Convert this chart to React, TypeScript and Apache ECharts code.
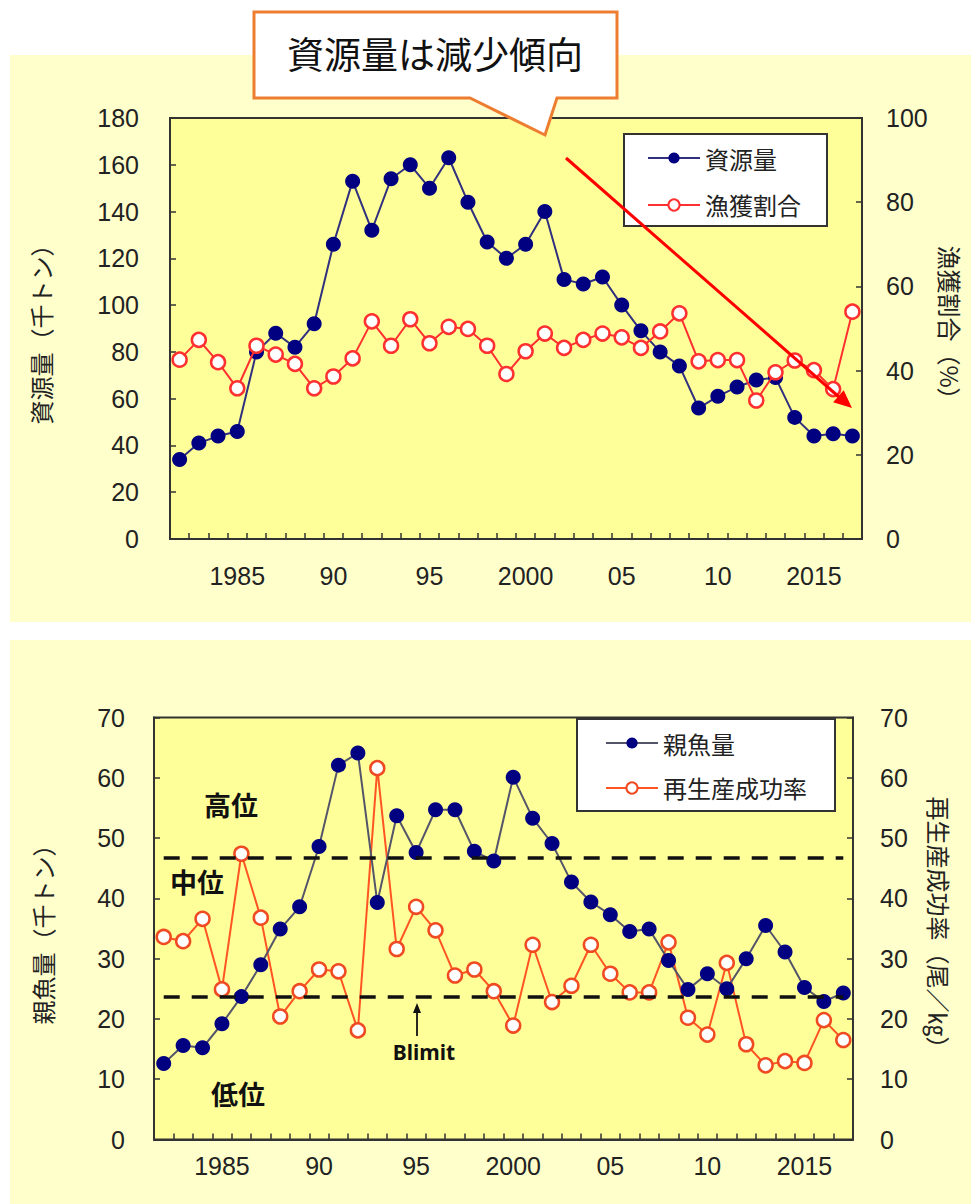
import React, { useEffect, useRef } from "react";
import * as echarts from "echarts";

const years = [
  "1982", "1983", "1984", "1985", "1986", "1987", "1988", "1989", "1990", "1991",
  "1992", "1993", "1994", "1995", "1996", "1997", "1998", "1999", "2000", "2001",
  "2002", "2003", "2004", "2005", "2006", "2007", "2008", "2009", "2010", "2011",
  "2012", "2013", "2014", "2015", "2016", "2017",
];

const yearLabels: Record<string, string> = {
  "1985": "1985", "1990": "90", "1995": "95", "2000": "2000",
  "2005": "05", "2010": "10", "2015": "2015",
};

// 資源量 (千トン)
const stock = [
  34, 41, 44, 46, 80, 88, 82, 92, 126, 153, 132, 154, 160, 150, 163, 144, 127, 120,
  126, 140, 111, 109, 112, 100, 89, 80, 74, 56, 61, 65, 68, 69, 52, 44, 45, 44,
];
// 漁獲割合 (%)
const harvestRate = [
  42.6, 47.3, 42.0, 35.8, 45.9, 43.8, 41.6, 35.8, 38.6, 42.9, 51.7, 45.9, 52.2, 46.5,
  50.4, 49.9, 45.9, 39.2, 44.6, 48.8, 45.4, 47.3, 48.8, 47.9, 45.4, 49.3, 53.6, 42.2,
  42.5, 42.5, 32.9, 39.6, 42.4, 40.1, 35.6, 54.0,
];
// 親魚量 (千トン)
const spawning = [
  12.6, 15.6, 15.2, 19.2, 23.7, 29.0, 34.9, 38.6, 48.6, 62.1, 64.1, 39.3, 53.7, 47.6,
  54.7, 54.7, 47.8, 46.2, 60.1, 53.3, 49.1, 42.7, 39.4, 37.3, 34.5, 34.9, 29.7, 24.9,
  27.5, 25.0, 30.0, 35.5, 31.1, 25.2, 22.9, 24.3,
];
// 再生産成功率 (尾/kg)
const rps = [
  33.6, 32.9, 36.6, 24.9, 47.4, 36.8, 20.4, 24.6, 28.2, 27.9, 18.1, 61.6, 31.6, 38.6,
  34.7, 27.2, 28.2, 24.6, 18.9, 32.3, 22.8, 25.5, 32.3, 27.5, 24.4, 24.4, 32.7, 20.2,
  17.4, 29.3, 15.8, 12.3, 13.0, 12.7, 19.8, 16.5,
];

const highLine = 46.8;
const blimit = 23.7;

const FONT = "'Liberation Sans', 'Noto Sans CJK JP', sans-serif";
const CJK = "'Noto Sans CJK JP', 'Liberation Sans', sans-serif";
const AX = "#333";

function xAxisDef(gridIndex: number, margin: number) {
  return {
    type: "category",
    gridIndex,
    data: years,
    boundaryGap: true,
    axisLine: { show: true, lineStyle: { color: AX, width: 2 } },
    axisTick: { show: true, inside: true, length: 6, interval: 0, lineStyle: { color: AX, width: 1.5 } },
    axisLabel: {
      interval: 0,
      margin,
      fontSize: 25,
      color: "#222",
      fontFamily: FONT,
      formatter: (v: string) => yearLabels[v] || "",
    },
    splitLine: { show: false },
  };
}

function yAxisDef(opts: any) {
  return {
    type: "value",
    gridIndex: opts.grid,
    position: opts.pos,
    min: 0,
    max: opts.max,
    interval: opts.interval,
    name: opts.name,
    nameLocation: "middle",
    nameGap: opts.nameGap,
    nameRotate: opts.pos === "left" ? 90 : -90,
    nameTextStyle: { fontSize: 24, color: "#222", fontFamily: CJK },
    axisLine: { show: true, lineStyle: { color: AX, width: 2 } },
    axisTick: { show: true, inside: true, length: 6, lineStyle: { color: AX, width: 1.5 } },
    axisLabel: { fontSize: 25, color: "#222", fontFamily: FONT, margin: opts.margin },
    splitLine: { show: false },
  };
}

export default function App() {
  const ref = useRef<HTMLDivElement>(null);
  useEffect(() => {
    if (!ref.current) return;
    const chart = echarts.init(ref.current, null, { renderer: "svg" });

    const legendCommon = {
      orient: "vertical",
      backgroundColor: "#fff",
      borderColor: "#333",
      borderWidth: 2,
      borderRadius: 0,
      itemWidth: 52,
      itemHeight: 14,
      textStyle: { fontSize: 24, color: "#222", fontFamily: CJK },
    };

    const option: any = {
      animation: false,
      backgroundColor: "#fff",
      grid: [
        {
          left: 170, top: 118, width: 692, height: 421,
          show: true, backgroundColor: "#FFFF99", borderColor: AX, borderWidth: 2,
        },
        {
          left: 154, top: 717.5, width: 699, height: 422,
          show: true, backgroundColor: "#FFFF99", borderColor: AX, borderWidth: 2,
        },
      ],
      xAxis: [xAxisDef(0, 24), xAxisDef(1, 14)],
      yAxis: [
        yAxisDef({ grid: 0, pos: "left", max: 180, interval: 20, name: "資源量（千トン）", nameGap: 118, margin: 31 }),
        yAxisDef({ grid: 0, pos: "right", max: 100, interval: 20, name: "漁獲割合（%）", nameGap: 66, margin: 24 }),
        yAxisDef({ grid: 1, pos: "left", max: 70, interval: 10, name: "親魚量（千トン）", nameGap: 100, margin: 29 }),
        yAxisDef({ grid: 1, pos: "right", max: 70, interval: 10, name: "再生産成功率（尾／㎏）", nameGap: 75, margin: 27 }),
      ],
      legend: [
        {
          ...legendCommon,
          left: 624, top: 134,
          padding: [12, 26, 9, 23],
          itemGap: 23,
          data: ["資源量", "漁獲割合"],
        },
        {
          ...legendCommon,
          left: 577, top: 719,
          padding: [12, 28, 11, 28],
          itemGap: 21,
          data: ["親魚量", "再生産成功率"],
        },
      ],
      series: [
        {
          name: "資源量",
          type: "line",
          xAxisIndex: 0, yAxisIndex: 0,
          data: stock,
          symbol: "circle",
          symbolSize: 15,
          itemStyle: { color: "#000080" },
          lineStyle: { color: "#30307e", width: 2 },
          z: 3,
        },
        {
          name: "漁獲割合",
          type: "line",
          xAxisIndex: 0, yAxisIndex: 1,
          data: harvestRate,
          symbol: "circle",
          symbolSize: 14,
          itemStyle: { color: "#fff", borderColor: "#FF3030", borderWidth: 2.5 },
          lineStyle: { color: "#FF3030", width: 2 },
          z: 4,
        },
        {
          name: "再生産成功率",
          type: "line",
          xAxisIndex: 1, yAxisIndex: 3,
          data: rps,
          symbol: "circle",
          symbolSize: 14,
          itemStyle: { color: "#fff", borderColor: "#F04A22", borderWidth: 2.5 },
          lineStyle: { color: "#FF5522", width: 2 },
          z: 3,
          markLine: {
            silent: true,
            symbol: "none",
            label: { show: false },
            lineStyle: { color: "#111", width: 3.5, type: [16, 12] },
            data: [
              [{ coord: ["1982", highLine] }, { coord: ["2017", highLine] }],
              [{ coord: ["1982", blimit] }, { coord: ["2017", blimit] }],
            ],
          },
        },
        {
          name: "親魚量",
          type: "line",
          xAxisIndex: 1, yAxisIndex: 2,
          data: spawning,
          symbol: "circle",
          symbolSize: 15,
          itemStyle: { color: "#000080" },
          lineStyle: { color: "#55556a", width: 2 },
          z: 4,
        },
      ],
      graphic: [
        { type: "rect", z: -100, shape: { x: 10, y: 55, width: 961, height: 567 }, style: { fill: "#FFFFCC" } },
        { type: "rect", z: -100, shape: { x: 10, y: 640, width: 961, height: 564 }, style: { fill: "#FFFFCC" } },
        // callout
        {
          type: "polygon", z: 100,
          shape: {
            points: [
              [254, 12], [617, 12], [617, 98], [557, 98], [545, 135], [470, 98], [254, 98],
            ],
          },
          style: { fill: "#fff", stroke: "#ED7D31", lineWidth: 3 },
        },
        {
          type: "text", z: 101, x: 435, y: 53,
          style: {
            text: "資源量は減少傾向", fontSize: 37, fill: "#111", fontFamily: CJK,
            textAlign: "center", textVerticalAlign: "middle",
          },
        },
        // red trend arrow
        {
          type: "line", z: 100,
          shape: { x1: 566, y1: 158, x2: 839, y2: 397 },
          style: { stroke: "#FF0000", lineWidth: 3 },
        },
        {
          type: "polygon", z: 100,
          shape: { points: [[852, 408], [843.7, 390.2], [833.1, 402.2]] },
          style: { fill: "#FF0000" },
        },
        // zone labels
        {
          type: "text", z: 100, x: 231, y: 804,
          style: { text: "高位", fontSize: 27, fontWeight: "bold", fill: "#111", fontFamily: CJK, textAlign: "center", textVerticalAlign: "middle" },
        },
        {
          type: "text", z: 100, x: 197, y: 881,
          style: { text: "中位", fontSize: 27, fontWeight: "bold", fill: "#111", fontFamily: CJK, textAlign: "center", textVerticalAlign: "middle" },
        },
        {
          type: "text", z: 100, x: 238, y: 1093,
          style: { text: "低位", fontSize: 27, fontWeight: "bold", fill: "#111", fontFamily: CJK, textAlign: "center", textVerticalAlign: "middle" },
        },
        {
          type: "text", z: 100, x: 424, y: 1052,
          style: { text: "Blimit", fontSize: 21, fontWeight: "bold", fill: "#111", fontFamily: "'Noto Sans', sans-serif", textAlign: "center", textVerticalAlign: "middle" },
        },
        {
          type: "line", z: 100,
          shape: { x1: 417, y1: 1036, x2: 417, y2: 1010 },
          style: { stroke: "#111", lineWidth: 1.8 },
        },
        {
          type: "polygon", z: 100,
          shape: { points: [[417, 1003], [413, 1013], [421, 1013]] },
          style: { fill: "#111" },
        },
      ],
    };

    chart.setOption(option);
    return () => chart.dispose();
  }, []);

  return (
    <div
      ref={ref}
      style={{ position: "absolute", left: 0, top: 0, width: 971, height: 1204 }}
    />
  );
}
